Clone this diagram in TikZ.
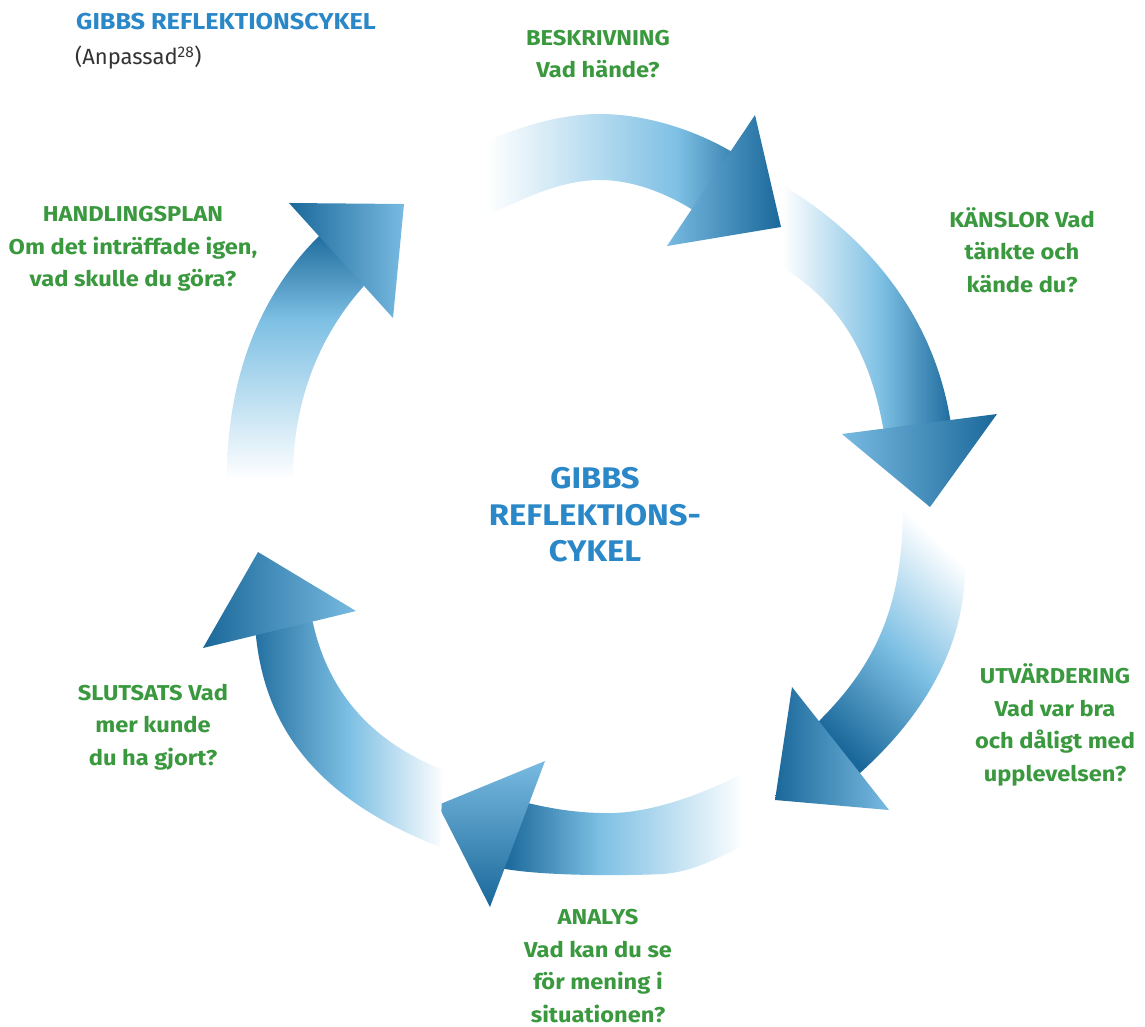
\documentclass[tikz,border=0pt]{standalone}
\usepackage{fontspec}
\setmainfont{Fira Sans}
\newfontfamily\labfont{Fira Sans}[FakeStretch=1.1]
\definecolor{lb}{RGB}{126,192,228}
\definecolor{lh}{RGB}{120,186,225}
\definecolor{db}{RGB}{26,104,154}
\definecolor{txtgreen}{RGB}{58,153,62}
\definecolor{txtblue}{RGB}{42,135,200}
\definecolor{txtgray}{RGB}{51,51,51}
% gradient: white -> light blue -> dark blue, inner third of the 100bp shading
\newcommand\mkfade[2]{\pgfdeclarehorizontalshading{#1}{100bp}{color(0bp)=(white); color(41.667bp)=(white); color(#2bp)=(lb); color(58.333bp)=(db); color(100bp)=(db)}}
\mkfade{fadeA}{53.3}
\mkfade{fadeB}{51.2}
\mkfade{fadeC}{50}
\mkfade{fadeD}{51.7}
\mkfade{fadeE}{49.6}
\mkfade{fadeF}{52.3}
\pgfdeclarehorizontalshading{headsh}{100bp}{color(0bp)=(lh); color(41.667bp)=(lh); color(58.333bp)=(db); color(100bp)=(db)}
% #1 shading, (#2,#3) start, (#4,#5) end of gradient, #6 path
\newcommand\gfill[6]{%
  \begin{scope}
    \clip #6;
    \pgfmathsetmacro\gang{atan2(-(#5-#3),#4-#2)}%
    \pgfmathsetmacro\glen{veclen(#4-#2,#5-#3)}%
    \pgfmathsetmacro\gcx{(#2+#4)/2}%
    \pgfmathsetmacro\gcy{(#3+#5)/2}%
    \shade[shading=#1, shading angle=\gang] ({\gcx-1.5*\glen},{\gcy-1.5*\glen}) rectangle ({\gcx+1.5*\glen},{\gcy+1.5*\glen});
  \end{scope}}
\begin{document}
\begin{tikzpicture}[x=1pt,y=-1pt,
  lab/.style={text=txtgreen, font=\labfont\fontsize{21.5}{32.5}\selectfont\bfseries, align=center, inner sep=0pt},
  centre/.style={text=txtblue, font=\labfont\fontsize{29.8}{36.5}\selectfont\bfseries, align=center, inner sep=0pt}]
\useasboundingbox (0,0) rectangle (1145,1026);
\fill[white] (0,0) rectangle (1145,1026);

% arrow 1: top
\gfill{fadeA}{487}{150}{760}{150}{(485,142) .. controls (525,124) and (565,114) .. (600,114) .. controls (645,114) and (700,130) .. (745,160) -- (720,230) .. controls (685,200) and (640,180) .. (600,180) .. controls (560,180) and (520,200) .. (485,217) -- cycle}
\gfill{headsh}{667}{180}{781}{180}{(755,115) -- (781,227) -- (667,246) -- cycle}

% arrow 2: right upper
\gfill{fadeB}{782}{300}{955}{300}{(782,185) .. controls (850,225) and (930,300) .. (950,418) -- (955,445) -- (890,450) -- (883,427) .. controls (868,345) and (835,300) .. (782,267) -- cycle}
\gfill{headsh}{842}{450}{997}{450}{(842,434) -- (997,414) -- (930,507) -- cycle}

% arrow 3: right lower
\gfill{fadeC}{930}{532}{780}{690}{(903,505) .. controls (903,600) and (880,660) .. (820,720) -- (810,735) -- (845,790) -- (860,773) .. controls (930,710) and (965,640) .. (965,567) -- cycle}
\gfill{headsh}{889}{750}{775}{750}{(792,687) -- (775,800) -- (889,810) -- cycle}

% arrow 4: bottom
\gfill{fadeD}{745}{830}{505}{830}{(740,775) .. controls (690,800) and (640,815) .. (600,813) .. controls (565,812) and (540,806) .. (515,800) -- (500,868) .. controls (540,876) and (620,876) .. (663,874) .. controls (690,872) and (715,860) .. (740,847) -- cycle}
\gfill{headsh}{490}{761}{490}{907}{(545,761) -- (438,805) -- (490,907) -- cycle}

% arrow 5: left lower
\gfill{fadeE}{445}{720}{245}{720}{(255,625) .. controls (262,730) and (320,800) .. (440,847) -- (443,770) .. controls (380,745) and (330,700) .. (313,623) -- (308,610) -- cycle}
\gfill{headsh}{356}{600}{203}{600}{(258,552) -- (203,648) -- (356,611) -- cycle}

% arrow 6: left upper
\gfill{fadeF}{260}{480}{260}{230}{(227,477) .. controls (227,370) and (265,290) .. (318,237) -- (330,225) -- (370,275) -- (363,287) .. controls (320,335) and (293,400) .. (293,477) -- cycle}
\gfill{headsh}{404}{260}{289}{260}{(289,203) -- (404,204) -- (393,318) -- cycle}

% texts
\node[anchor=west, inner sep=0pt, text=txtblue, font=\labfont\fontsize{23}{28}\selectfont\bfseries] (title) at (76,22) {GIBBS REFLEKTIONSCYKEL};
\node[anchor=west, inner sep=0pt, text=txtgray, font=\fontsize{22}{28}\selectfont] (adapted) at (75,58) {(Anpassad\textsuperscript{28})};
\node[centre] (centre) at (595,515) {GIBBS\\REFLEKTIONS-\\CYKEL};
\node[lab] (beskrivning) at (598,54) {BESKRIVNING\\Vad hände?};
\node[lab] (kanslor) at (1022,250) {KÄNSLOR Vad\\tänkte och\\kände du?};
\node[lab] (utvardering) at (1055,725) {UTVÄRDERING\\Vad var bra\\och dåligt med\\upplevelsen?};
\node[lab] (analys) at (598,966) {ANALYS\\Vad kan du se\\för mening i\\situationen?};
\node[lab] (slutsats) at (153,727) {SLUTSATS Vad\\mer kunde\\du ha gjort?};
\node[lab] (handlingsplan) at (133,249) {HANDLINGSPLAN\\Om det inträffade igen,\\vad skulle du göra?};
\end{tikzpicture}
\end{document}
